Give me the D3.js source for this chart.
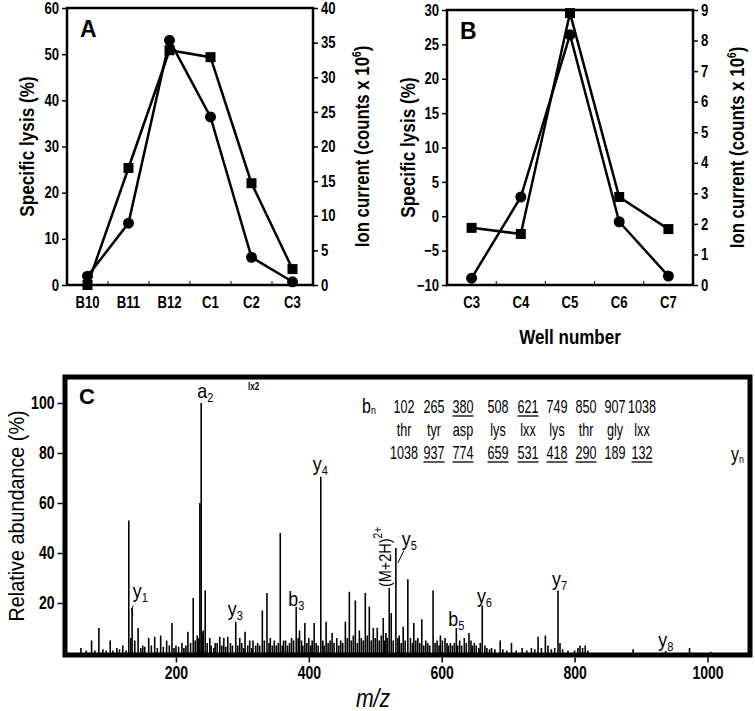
<!DOCTYPE html>
<html><head><meta charset="utf-8">
<script src="https://cdn.jsdelivr.net/npm/d3@7"></script>
<style>
body{margin:0;background:#fff;}
svg{display:block;}
text{fill:#000;}
</style></head>
<body><svg id="c" width="755" height="711"></svg>
<script>
// ---------- DATA ----------
const catsA = ["B10","B11","B12","C1","C2","C3"];
const lysisA = [1.9, 13.4, 53, 36.4, 6, 0.7];          // diamonds, left axis (%)
const ionA   = [0, 16.9, 33.9, 32.9, 14.7, 2.3];       // squares, right axis (x10^6)
const leftTicksA = [0,10,20,30,40,50,60];
const rightTicksA = [0,5,10,15,20,25,30,35,40];

const catsB = ["C3","C4","C5","C6","C7"];
const lysisB = [-9.0, 2.8, 26.4, -0.8, -8.7];
const ionB   = [1.87, 1.67, 8.9, 2.88, 1.83];
const leftTicksB = [-10,-5,0,5,10,15,20,25,30];
const rightTicksB = [0,1,2,3,4,5,6,7,8,9];

// spectrum peaks [m/z, relative abundance %]
const peaks = [
[57,2],[65,1],[73,5],[78,1],[84,10],[90,1.5],[95,1],[101,5],[105,1],[111,2],[115,1.5],[120,3],[125,1],
[129,53],[132,6],[134,18],[138,5],[143,10],[147,2],[150,3],[153,2.5],[159,6],[163,3],[168,6.5],[172,2],
[177,7],[181,2.5],[186,5],[190,3],[194,12],[197,2],[200,3],[204,2.5],[209,4],[212,2],[215,3],[218,8.5],
[222,4],[226,22],[229,5],[232,7],[234,6],[236,60],[238,100],[240,8],[241,9],[244,25],[247,4],[251,6],
[253,3],[257,2],[259,4],[262,4],[266,6.5],[269,3],[272,6],[275,2.5],[278,6.5],[282,4],[285,3],[290,12.5],
[293,3],[296,6],[299,4],[302,2],[304,8.5],[308,3],[311,5],[314,2],[316,5],[320,3],[323,4],[326,3],
[330,17],[333,5],[337,24],[340,4],[342,6],[345,3],[348,5],[351,3],[354,4],[357,48],[360,3],[362,5],
[365,5],[368,3],[371,4],[374,6],[377,5],[381,18.5],[384,6],[386,9],[389,5],[391,3],[394,12],[397,4],
[400,6],[403,3],[405,5],[408,12],[411,4],[414,3],[418,70.5],[421,5],[423,3],[426,12.5],[429,4],[432,5],
[435,8],[438,4],[442,6],[445,3],[448,5],[451,4],[455,12.5],[458,6],[461,24.5],[464,5],[467,7],[470,21],
[473,4],[476,9],[479,6],[482,5],[485,24],[488,7],[491,18.5],[494,5],[497,10],[500,6],[503,10],[506,5],
[509,7],[512,14],[514,5],[516,8],[518,6],[521,26],[524,16],[527,5],[531,42],[534,6],[536,7],[539,4],
[542,10.5],[545,5],[549,29.5],[553,6],[556,4],[558,12],[561,5],[564,6],[567,4],[570,13.5],[573,3],
[576,5],[579,4],[582,3],[587,25],[590,4],[593,5],[596,3],[598,7],[601,5],[605,6],[608,4],[610,3],
[613,4],[616,3],[619,4],[622,10],[624,3],[627,5],[630,3],[634,6],[637,4],[641,8],[644,5],[646,3],
[649,4],[652,3],[656,2],[658,4],[661,19],[665,3],[668,2],[672,1.5],[675,2],[680,1.5],[688,5],[692,1.5],
[698,1],[705,4],[712,1],[721,2],[728,1],[735,2],[740,1.5],[745,6.5],[750,2],[756,7],[760,3],[765,1.5],
[770,2],[775,25],[778,4],[782,1.5],[790,1],[800,1],[805,2],[808,3],[812,2],[816,3],[820,1],
[888,1.5],[937,0.8],[973,2],[1005,0.5]
];
const mzTicks = [200,400,600,800,1000];
const abundTicks = [20,40,60,80,100];

// peak annotations: label, subscript, anchor m/z, anchor abundance
const annotations = [
  ["a","2",232,102],["y","1",135,22],["y","3",278,15],["b","3",369,19],["y","4",406,73],
  ["y","5",540,43],["y","6",653,20],["b","5",610,11],["y","7",766,27],["y","8",926,2.4]
];

// sequence table
const bIons   = ["102","265","380","508","621","749","850","907","1038"];
const residues= ["thr","tyr","asp","lys","lxx","lys","thr","gly","lxx"];
const yIons   = ["1038","937","774","659","531","418","290","189","132"];
const bUnder  = ["380","621"];
const yUnder  = ["937","774","659","531","418","290","132"];

// ---------- DRAW ----------
const svg = d3.select("#c");
const FONT = "'Liberation Sans',Arial,sans-serif";

// condense text horizontally (narrow face emulation)
function squeeze(sel, k){
  sel.each(function(){
    const t = d3.select(this);
    const x = +t.attr("x")||0, y = +t.attr("y")||0;
    t.attr("x",0).attr("y",0).attr("transform",`translate(${x},${y}) scale(${k},1)`);
  });
}

function panel(o){
  const g = svg.append("g");
  const x = d3.scaleBand().domain(o.cats).range([o.l,o.r]);
  const cx = c => x(c) + x.bandwidth()/2;
  const yL = d3.scaleLinear().domain(o.ld).range([o.b,o.t]);
  const yR = d3.scaleLinear().domain(o.rd).range([o.b,o.t]);

  const ax = g.append("g").attr("transform",`translate(${o.l},0)`)
    .call(d3.axisLeft(yL).tickValues(o.lt).tickSize(5).tickPadding(3));
  const ar = g.append("g").attr("transform",`translate(${o.r},0)`)
    .call(d3.axisRight(yR).tickValues(o.rt).tickSize(5).tickPadding(3));
  const ab = g.append("g").attr("transform",`translate(0,${o.b})`)
    .call(d3.axisBottom(x).tickSize(0).tickPadding(12));
  [ax,ar,ab].forEach(a=>{
    a.select(".domain").remove();
    a.selectAll("line").attr("stroke","#000").attr("stroke-width",1.5);
    a.selectAll("text").attr("font-family",FONT).attr("font-weight","bold").attr("font-size",16);
    squeeze(a.selectAll("text"),0.82);
  });
  // inner category boundary ticks
  g.selectAll("line.bt").data(o.cats.slice(1)).enter().append("line")
    .attr("x1",d=>x(d)).attr("x2",d=>x(d)).attr("y1",o.b).attr("y2",o.b-4)
    .attr("stroke","#000").attr("stroke-width",1);
  g.append("rect").attr("x",o.l).attr("y",o.t).attr("width",o.r-o.l).attr("height",o.b-o.t)
    .attr("fill","none").attr("stroke","#000").attr("stroke-width",2.5);

  const lineL = d3.line().x((d,i)=>cx(o.cats[i])).y(d=>yL(d));
  const lineR = d3.line().x((d,i)=>cx(o.cats[i])).y(d=>yR(d));
  g.append("path").attr("d",lineR(o.ion)).attr("fill","none").attr("stroke","#000").attr("stroke-width",2.5);
  g.append("path").attr("d",lineL(o.lys)).attr("fill","none").attr("stroke","#000").attr("stroke-width",2.5);
  g.selectAll("rect.sq").data(o.ion).enter().append("rect")
    .attr("x",(d,i)=>cx(o.cats[i])-5).attr("y",d=>yR(d)-5).attr("width",10).attr("height",10).attr("fill","#000");
  g.selectAll("circle.dm").data(o.lys).enter().append("circle")
    .attr("cx",(d,i)=>cx(o.cats[i])).attr("cy",d=>yL(d)).attr("r",5.5).attr("fill","#000");

  g.append("text").attr("x",o.l+13).attr("y",o.t+29).text(o.name)
    .attr("font-family",FONT).attr("font-weight","bold").attr("font-size",23);
  g.append("text").attr("transform",`translate(${o.ltx},${(o.t+o.b)/2}) rotate(-90) scale(0.86,1)`)
    .attr("text-anchor","middle").attr("font-family",FONT).attr("font-weight","bold").attr("font-size",20)
    .text("Specific lysis (%)");
  const tr = g.append("text").attr("transform",`translate(${o.rtx},${(o.t+o.b)/2}) rotate(-90) scale(0.84,1)`)
    .attr("text-anchor","middle").attr("font-family",FONT).attr("font-weight","bold").attr("font-size",20);
  tr.append("tspan").text("Ion current (counts x 10");
  tr.append("tspan").text("6").attr("font-size",12).attr("dy",-8);
  tr.append("tspan").text(")").attr("dy",8);
}

panel({cats:catsA,lys:lysisA,ion:ionA,l:67,r:313,t:8,b:285,ld:[0,60],rd:[0,40],lt:leftTicksA,rt:rightTicksA,name:"A",ltx:34,rtx:369});
panel({cats:catsB,lys:lysisB,ion:ionB,l:447,r:693,t:10,b:285,ld:[-10,30],rd:[0,9],lt:leftTicksB,rt:rightTicksB,name:"B",ltx:415,rtx:744});

svg.append("text").attr("transform","translate(570,344) scale(0.85,1)").attr("text-anchor","middle")
  .attr("font-family",FONT).attr("font-weight","bold").attr("font-size",20).text("Well number");

// ---------- Panel C ----------
const gc = svg.append("g");
const xC = d3.scaleLinear().domain([33,1064]).range([65,750]);
const yC = d3.scaleLinear().domain([0,100]).range([653,403]);

gc.selectAll("line.pk").data(peaks).enter().append("line")
  .attr("x1",d=>xC(d[0])).attr("x2",d=>xC(d[0])).attr("y1",yC(0)).attr("y2",d=>yC(d[1]))
  .attr("stroke","#000").attr("stroke-width",1.6);

gc.append("rect").attr("x",65).attr("y",377).attr("width",685).attr("height",278)
  .attr("fill","none").attr("stroke","#000").attr("stroke-width",5);

const axL = gc.append("g").attr("transform","translate(62.5,0)")
  .call(d3.axisLeft(yC).tickValues(abundTicks).tickSize(5).tickPadding(3));
const axB = gc.append("g").attr("transform","translate(0,657.5)")
  .call(d3.axisBottom(xC).tickValues(mzTicks).tickFormat(d3.format("d")).tickSize(5).tickPadding(4));
[axL,axB].forEach(a=>{
  a.select(".domain").remove();
  a.selectAll("line").attr("stroke","#000").attr("stroke-width",1.5);
  a.selectAll("text").attr("font-family",FONT).attr("font-weight","bold").attr("font-size",18);
  squeeze(a.selectAll("text"),0.78);
});

gc.append("text").attr("transform",`translate(24,516) rotate(-90) scale(0.9,1)`).attr("text-anchor","middle")
  .attr("font-family",FONT).attr("font-size",22).text("Relative abundance (%)");
gc.append("text").attr("transform","translate(373,707) scale(0.85,1)").attr("text-anchor","middle")
  .attr("font-family",FONT).attr("font-style","italic").attr("font-size",25).text("m/z");
gc.append("text").attr("x",79).attr("y",404)
  .attr("font-family",FONT).attr("font-weight","bold").attr("font-size",22).text("C");
gc.append("text").attr("transform","translate(248,390) scale(0.8,1)")
  .attr("font-family",FONT).attr("font-weight","bold").attr("font-size",10).text("lx2");

// peak labels
annotations.forEach(a=>{
  const t = gc.append("text").attr("transform",`translate(${xC(a[2])},${yC(a[3])}) scale(0.85,1)`)
    .attr("font-family",FONT).attr("font-size",21);
  t.append("tspan").text(a[0]);
  t.append("tspan").text(a[1]).attr("font-size",13).attr("dy",4);
});
// y1 bracket and y5 pointer
gc.append("path").attr("d",`M${xC(134)+1},${yC(19)} q-3,4 0,9`).attr("fill","none").attr("stroke","#000").attr("stroke-width",1);
gc.append("line").attr("x1",xC(543)).attr("y1",yC(41)).attr("x2",xC(534)).attr("y2",yC(36))
  .attr("stroke","#000").attr("stroke-width",1);
// (M+2H)2+ rotated
const mt = gc.append("text").attr("transform",`translate(${xC(524)},${yC(26.4)}) rotate(-90) scale(0.85,1)`)
  .attr("font-family",FONT).attr("font-size",17);
mt.append("tspan").text("(M+2H)");
mt.append("tspan").text("2+").attr("font-size",12).attr("dy",-9);

// sequence table
const colX = [404,434,463,498,528,557,586,615,642];
const K = 0.7;
function row(vals, y, under){
  vals.forEach((v,i)=>{
    const t = gc.append("text").attr("transform",`translate(${colX[i]},${y}) scale(${K},1)`)
      .attr("text-anchor","middle").attr("font-family",FONT).attr("font-size",18).text(v);
    if(under && under.includes(v)){
      const w = t.node().getComputedTextLength()*K;
      gc.append("line").attr("x1",colX[i]-w/2).attr("x2",colX[i]+w/2).attr("y1",y+3).attr("y2",y+3)
        .attr("stroke","#000").attr("stroke-width",1.3);
    }
  });
}
row(bIons,413,bUnder);
row(residues,436,null);
row(yIons,459,yUnder);
const bn = gc.append("text").attr("transform","translate(362,413) scale(0.8,1)").attr("font-family",FONT).attr("font-size",20);
bn.append("tspan").text("b"); bn.append("tspan").text("n").attr("font-size",11).attr("dy",1);
const yn = gc.append("text").attr("transform","translate(731,461) scale(0.8,1)").attr("font-family",FONT).attr("font-size",20);
yn.append("tspan").text("y"); yn.append("tspan").text("n").attr("font-size",11).attr("dy",2);
</script>
</body></html>
